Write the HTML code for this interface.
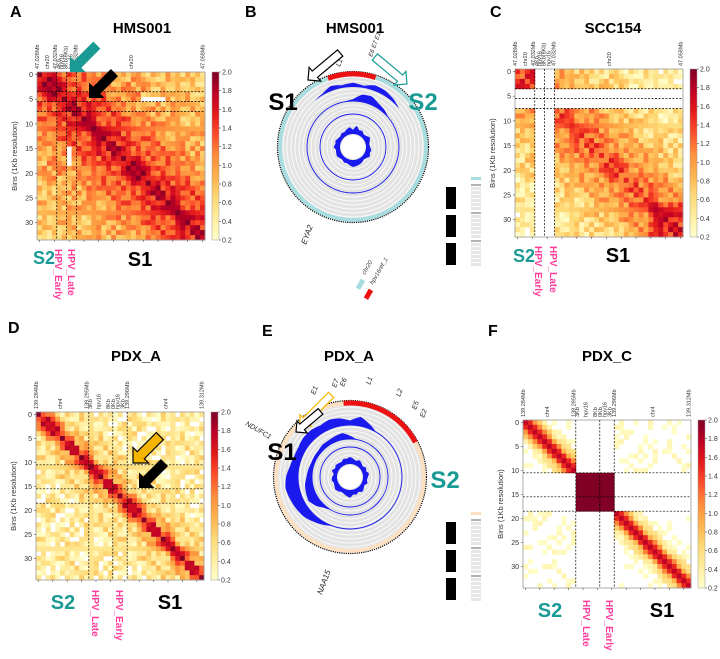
<!DOCTYPE html>
<html><head><meta charset="utf-8">
<style>
html,body{margin:0;padding:0;background:#fff;}
svg{display:block;font-family:"Liberation Sans",sans-serif;}
</style></head>
<body>
<svg id="fig" width="720" height="659" viewBox="0 0 720 659" xmlns="http://www.w3.org/2000/svg">
<g id="static">
<text x="10" y="17" font-size="16" font-weight="bold">A</text>
<text x="245" y="17" font-size="16" font-weight="bold">B</text>
<text x="490" y="17" font-size="16" font-weight="bold">C</text>
<text x="8" y="333" font-size="16" font-weight="bold">D</text>
<text x="262" y="336" font-size="16" font-weight="bold">E</text>
<text x="488" y="336" font-size="16" font-weight="bold">F</text>
<text x="142" y="33" font-size="15" font-weight="bold" text-anchor="middle">HMS001</text>
<text x="355" y="33" font-size="15" font-weight="bold" text-anchor="middle">HMS001</text>
<text x="613" y="33" font-size="15" font-weight="bold" text-anchor="middle">SCC154</text>
<text x="136" y="361" font-size="15" font-weight="bold" text-anchor="middle">PDX_A</text>
<text x="349" y="361" font-size="15" font-weight="bold" text-anchor="middle">PDX_A</text>
<text x="607" y="361" font-size="15" font-weight="bold" text-anchor="middle">PDX_C</text>
</g>
</svg>
<script>
// ---------- data ----------
const cbTicks = [0.2,0.4,0.6,0.8,1.0,1.2,1.4,1.6,1.8,2.0];
const yTicks = [0,5,10,15,20,25,30];
const noiseVals = [0.12,-0.2,0.05,0.25,-0.1,-0.3,0.18,0,-0.15,0.3,-0.05,0.1,-0.25,0.22,-0.08,0.15,-0.18];
const decayA = [1.9,1.7,1.55,1.45,1.4,1.35,1.3,1.25,1.2,1.15,1.1,1.08,1.05,1.0,1.0,0.95,0.95,0.9,0.9,0.9,0.85,0.85,0.85,0.8,0.8,0.8,0.8,0.75,0.75,0.75,0.75,0.7,0.7,0.7];
const decayC = [1.4,1.3,1.2,1.15,1.1,1.05,1.0,0.95,0.9,0.85,0.8,0.75,0.7,0.7,0.65,0.65,0.6,0.6,0.55,0.55,0.5,0.5,0.5,0.5,0.45,0.45,0.45,0.45,0.4,0.4,0.4,0.4,0.4,0.4];
const decayD = [1.85,1.5,1.1,0.85,0.7,0.6,0.55,0.5,0.5,0.45,0.45,0.45,0.4,0.4,0.4,0.4,0.4,0.4,0.4,0.4,0.4,0.4,0.4,0.4,0.4,0.4,0.4,0.4,0.4,0.4,0.4,0.4,0.4,0.4,0.4];
const decayF = [1.75,1.5,1.0,0.6,0.4,0.25,0.15,0.1,0.1,0.1,0.1,0.1,0.1,0.1,0.1,0.1,0.1,0.1,0.1,0.1,0.1,0.1,0.1,0.1,0.1,0.1,0.1,0.1,0.1,0.1,0.1,0.1,0.1,0.1,0.1];
const hpvA = [4,6,8];
const hpvD = [11,16,19];
const trackB1 = [0.6,0.3,0.8,0.7,0.4,0,0,0,0,0,0,0,0,0,0,0,0,0,0,0,0,0,0,0,0,0,0,0,0,0,0,0,0,0.2,0.7,0.4];
const trackB2 = [0.2,0.8,0.9,0.5,0.3,0,0,0,0,0,0,0,0,0,0,0,0,0,0,0,0,0,0,0,0,0,0,0,0,0,0,0,0,0,0,0];
const trackInnerB = [0.6,1.2,0.7,0.8,0.5,0.6,0.9,0.7,0.5,0.6,0.8,0.7,0.9,0.6,0.5,0.7,0.8,0.9,1.0,0.8,0.6,0.7,0.5,0.6,0.8,0.7,0.6,0.9,0.7,0.8,0.6,0.5,0.7,0.6,0.8,1.0];
const trackE1 = [0.3,0.6,0.3,0,0,0,0,0,0,0,0,0,0,0,0,0,0,0,0,0,0,0.2,0.4,0.6,0.7,0.8,0.9,0.8,0.6,0.5,0.5,0.6,0.6,0.5,0.6,0.5];
const trackE2 = [0.3,0,0,0,0,0,0,0,0,0,0,0,0,0,0,0,0,0,0,0,0,0,0.2,0.6,0.9,0.8,0.7,0.5,0.4,0.3,0.3,0.3,0.4,0.4,0.5,0.6];
const trackInnerE = [1.0,0.8,0.6,0.9,0.7,0.5,0.8,0.6,0.9,0.7,0.6,0.8,0.5,0.7,0.9,0.6,0.8,0.7,1.1,0.9,0.7,0.6,0.8,0.9,0.7,0.6,0.8,0.7,0.5,0.9,0.6,0.8,0.7,0.6,0.9,0.8];

const NS = "http://www.w3.org/2000/svg";
const fig = document.getElementById('fig');
function mk(tag, attrs, parent){const e=document.createElementNS(NS,tag);for(const k in attrs)e.setAttribute(k,attrs[k]);(parent||fig).appendChild(e);return e;}
const stops = ['#ffffcc','#ffeda0','#fed976','#feb24c','#fd8d3c','#fc4e2a','#e31a1c','#bd0026','#800026'];
function hex(h){return [1,3,5].map(i=>parseInt(h.substr(i,2),16));}
function color(v){
  let t=(v-0.2)/1.8; t=Math.max(0,Math.min(1,t));
  const p=t*(stops.length-1), i=Math.min(stops.length-2,Math.floor(p)), f=p-i;
  const a=hex(stops[i]), b=hex(stops[i+1]);
  return 'rgb('+a.map((x,k)=>Math.round(x+(b[k]-x)*f)).join(',')+')';
}
function noise(i,j){return noiseVals[(i*j*3+i+j)%17];}

function heatmap(id,x0,y0,size,n,valFn,lines,topLabels){
  const g=mk('g',{});
  
  
  const s=size/n;
  const xs=i=>x0+i*s;
  for(let i=0;i<n;i++)for(let j=0;j<n;j++){
    const v=valFn(i,j);
    if(v===null||v<0.2)continue;
    const r=mk('rect',{x:xs(j).toFixed(2),y:(y0+i*s).toFixed(2),width:(s+0.4).toFixed(2),height:(s+0.4).toFixed(2),fill:color(v)},g);
    
    
  }
  mk('rect',{x:x0,y:y0,width:size,height:size,fill:'none',stroke:'#999','stroke-width':0.8},g);
  lines.forEach(b=>{
    mk('line',{x1:xs(b),x2:xs(b),y1:y0,y2:y0+size,stroke:'#000','stroke-width':0.7,'stroke-dasharray':'2,1.5'},g);
    mk('line',{x1:x0,x2:x0+size,y1:y0+b*s,y2:y0+b*s,stroke:'#000','stroke-width':0.7,'stroke-dasharray':'2,1.5'},g);
  });
  yTicks.forEach(t=>{
    const yy=y0+(t+0.5)*s;
    mk('line',{x1:x0-2,x2:x0,y1:yy,y2:yy,stroke:'#333','stroke-width':0.5},g);
    const tx=mk('text',{x:x0-4,y:yy+2.5,'font-size':7,'text-anchor':'end',fill:'#333'},g);tx.textContent=t;
    
    
  });
  for(let k=0;k<n;k+=3){mk('line',{x1:xs(k+0.5),x2:xs(k+0.5),y1:y0+size,y2:y0+size+2,stroke:'#333','stroke-width':0.5},g);}
  const yt=mk('text',{transform:`translate(${x0-20},${y0+size/2}) rotate(-90)`,'font-size':7.5,'text-anchor':'middle',fill:'#333'},g);
  yt.textContent='Bins (1Kb resolution)';
  
  
  topLabels.forEach(([bin,txt])=>{
    const t=mk('text',{transform:`translate(${xs(bin)+2},${y0-3}) rotate(-90)`,'font-size':5.5,fill:'#333'},g);
    t.textContent=txt;
    
    
  });
  const cbx=x0+size+7;
  const gid='grad'+id;
  const defs=mk('defs',{},g);
  const lg=mk('linearGradient',{id:gid,x1:0,y1:1,x2:0,y2:0},defs);
  stops.forEach((c,k)=>mk('stop',{offset:(k/(stops.length-1)),'stop-color':c},lg));
  const cb=mk('rect',{x:cbx,y:y0,width:7,height:size,fill:`url(#${gid})`,stroke:'#999','stroke-width':0.5},g);
  
  
  cbTicks.forEach(v=>{
    const yy=y0+size-(v-0.2)/1.8*size;
    mk('line',{x1:cbx+7,x2:cbx+9,y1:yy,y2:yy,stroke:'#333','stroke-width':0.5},g);
    const t=mk('text',{x:cbx+10,y:yy+2.5,'font-size':7,fill:'#333'},g);t.textContent=v.toFixed(1);
    
    
  });
}

const topAC=[[0,'47.028Mb'],[2,'chr20'],[3.6,'47.032Mb'],[4.4,'4Kb'],[5,'hpv16'],[5.8,'8Kb(8Kb)'],[6.8,'hpv16'],[7.8,'47.032Mb'],[19,'chr20'],[33.5,'47.058Mb']];
const topDF=[[0,'139.284Mb'],[5,'chr4'],[10.5,'139.295Mb'],[11.3,'3Kb'],[13,'hpv16'],[15,'8Kb'],[16,'0Kb'],[17,'hpv16'],[18,'3Kb'],[19,'139.296Mb'],[27,'chr4'],[34.5,'139.312Mb']];
heatmap('a',37,72,168,34,(i,j)=>{
  const d=Math.abs(i-j); let v=decayA[d]+noise(i,j);
  if((i<8&&j<8)) v=Math.max(v,1.35+noise(i,j));
  if((j===6&&i>14&&i<19)||(i===5&&j>20&&j<26)) return null;
  return v;
},hpvA,topAC);
heatmap('c',515,69,168,34,(i,j)=>{
  const mi=i>=4&&i<8, mj=j>=4&&j<8;
  if(mi||mj) return null;
  const d=Math.abs(i-j); let v=decayC[d]+noise(i,j);
  if(i<4&&j<4) v=1.4+noise(i,j);
  if(i>26&&j>26) v+=0.3;
  return v;
},hpvA,topAC);
heatmap('d',36,412,168,35,(i,j)=>{
  const d=Math.abs(i-j); return decayD[d]+noise(i,j)*1.1;
},hpvD,topDF);
heatmap('f',523,420,168,35,(i,j)=>{
  const hi=i>=11&&i<19, hj=j>=11&&j<19;
  if(hi&&hj) return 2.0;
  if(hi||hj) return null;
  const d=Math.abs(i-j); let v=decayF[d]+(d>1?noise(i,j)*0.5:0);
  if((i<11)!==(j<11)) v=0.1+Math.max(0,noise(i,j))*0.8;
  return v;
},hpvD,topDF);

function lab(x,y,txt,col,size,rot,name){
  const t=mk('text',{x:x,y:y,'font-size':size,'font-weight':'bold',fill:col,'text-anchor':rot?'start':'middle'});
  if(rot) t.setAttribute('transform',`rotate(90 ${x} ${y})`);
  t.textContent=txt;
  
  
}
const TEAL='#1a9a94', PINK='#ff3c9a';
lab(44,264,'S2',TEAL,18,false,'s2-label');lab(55,249,'HPV_Early',PINK,10,true,'hpv-early-label');lab(68,249,'HPV_Late',PINK,10,true,'hpv-late-label');lab(140,266,'S1','#000',20,false,'s1-label');
lab(524,262,'S2',TEAL,18,false,'s2-label');lab(535,246,'HPV_Early',PINK,10,true,'hpv-early-label');lab(550,246,'HPV_Late',PINK,10,true,'hpv-late-label');lab(618,262,'S1','#000',20,false,'s1-label');
lab(63,609,'S2',TEAL,20,false,'s2-label');lab(92,590,'HPV_Late',PINK,10,true,'hpv-late-label');lab(116,590,'HPV_Early',PINK,10,true,'hpv-early-label');lab(170,609,'S1','#000',20,false,'s1-label');
lab(550,617,'S2',TEAL,20,false,'s2-label');lab(583,600,'HPV_Late',PINK,10,true,'hpv-late-label');lab(606,600,'HPV_Early',PINK,10,true,'hpv-early-label');lab(662,617,'S1','#000',20,false,'s1-label');

function arrow(tx,ty,L,w,fill,stroke,rot,name){
  const p=[[0,0],[-w,-w],[-w,-w/2.2],[-L,-w/2.2],[-L,w/2.2],[-w,w/2.2],[-w,w]].map(q=>q.join(',')).join(' ');
  const a=mk('polygon',{points:p,fill:fill,stroke:stroke,'stroke-width':1.2,transform:`translate(${tx},${ty}) rotate(${rot})`});
  
  
}
arrow(70,72,38,11,TEAL,'none',135,'teal-arrow');
arrow(89,98,36,11,'#000','none',135,'black-arrow');
arrow(133,463,38,11,'#f5b400','#000',135,'orange-arrow');
arrow(139,488,36,11,'#000','none',135,'black-arrow');

function P(cx,cy,r,a){const t=a*Math.PI/180;return [cx+r*Math.sin(t),cy-r*Math.cos(t)];}
function arcPath(cx,cy,r,a0,a1){const p0=P(cx,cy,r,a0),p1=P(cx,cy,r,a1);return `M${p0[0]},${p0[1]} A${r},${r} 0 ${(a1-a0)>180?1:0} 1 ${p1[0]},${p1[1]}`;}
function circos(id,cx,cy,R,ringCol,a0,a1,tracks){
  const g=mk('g',{});
  
  
  mk('circle',{cx:cx,cy:cy,r:R-4,fill:'#e3e3e3'},g);
  for(let r=14;r<R-4;r+=4) mk('circle',{cx:cx,cy:cy,r:r,fill:'none',stroke:'#fff','stroke-width':0.8},g);
  mk('circle',{cx:cx,cy:cy,r:12,fill:'#fff'},g);
  mk('circle',{cx:cx,cy:cy,r:R-2,fill:'none',stroke:ringCol,'stroke-width':4},g);
  mk('circle',{cx:cx,cy:cy,r:R+0.5,fill:'none',stroke:'#000','stroke-width':1.2,'stroke-dasharray':'1.2,1'},g);
  const red=mk('path',{d:arcPath(cx,cy,R-2,a0,a1),fill:'none',stroke:'#ee1111','stroke-width':5},g);
  
  
  tracks.forEach(tr=>{
    const n=tr.vals.length, step=360/n, sub=4;
    const out=[],inn=[];
    for(let k=0;k<=n*sub;k++){
      const i0=Math.floor(k/sub)%n, i1=(i0+1)%n, f=(k%sub)/sub;
      const v=tr.vals[i0]*(1-f)+tr.vals[i1]*f;
      out.push(P(cx,cy,tr.base+tr.scale*v,k*step/sub));
      inn.push(P(cx,cy,tr.base,k*step/sub));
    }
    const pts=out.concat(inn.reverse()).map(q=>q[0].toFixed(1)+','+q[1].toFixed(1)).join(' ');
    const poly=mk('polygon',{points:pts,fill:'#1a1aee'},g);
    
    
    if(tr.line) mk('circle',{cx:cx,cy:cy,r:tr.base,fill:'none',stroke:'#1a1aee','stroke-width':0.9},g);
  });
}
circos('b',353,147,75,'#a8dde0',-20,18,[
  {base:60,scale:7,vals:trackB1,line:false},
  {base:46,scale:9,vals:trackB2,line:true},
  {base:33,scale:2,vals:trackB2.map(()=>0),line:true},
  {base:13,scale:7,vals:trackInnerB,line:false}]);
circos('e',350,477,76,'#fde0c2',-5,62,[
  {base:52,scale:15,vals:trackE1,line:true},
  {base:38,scale:11,vals:trackE2,line:true},
  {base:30,scale:2,vals:trackE2.map(()=>0),line:true},
  {base:13,scale:7,vals:trackInnerE,line:false}]);

lab(283,110,'S1','#000',24,false,'s1-label');
lab(423,110,'S2',TEAL,24,false,'s2-label');
lab(282,460,'S1','#000',24,false,'s1-label');
lab(445,488,'S2',TEAL,24,false,'s2-label');
function small(x,y,txt,rot,size,col,name){
  const t=mk('text',{x:x,y:y,'font-size':size,'font-style':'italic',fill:col||'#222',transform:`rotate(${rot} ${x} ${y})`});
  t.textContent=txt;
  
  
}
small(306,245,'EYA2',-70,8,'#222','gene-label');
small(322,595,'NAA15',-70,8,'#222','gene-label');
small(245,425,'NDUFC1',30,7,'#222','gene-label');
small(340,67,'L1',-70,7,'#222','gene-label');
small(372,57,'E6 E7 E1',-70,6,'#222','gene-label');
small(315,395,'E1',-70,7,'#222','gene-label');
small(336,388,'E7',-70,7,'#222','gene-label');
small(344,387,'E6',-70,7,'#222','gene-label');
small(370,385,'L1',-70,7,'#222','gene-label');
small(400,397,'L2',-70,7,'#222','gene-label');
small(416,410,'E5',-70,7,'#222','gene-label');
small(424,418,'E2',-70,7,'#222','gene-label');
// outlined arrows for circos
arrow(308,80,42,9,'#fff','#000',140,'s1-outline-arrow');
arrow(407,84,42,9,'#fff',TEAL,40,'s2-outline-arrow');
arrow(300,426,44,8,'#fff','#f5b400',135,'yellow-outline-arrow');
arrow(296,432,32,8,'#fff','#000',140,'black-outline-arrow');

function trackLegend(x,y,topCol,name){
  const g=mk('g',{});
  
  
  mk('rect',{x:x+25,y:y-8,width:10,height:3,fill:topCol},g);
  for(let b=0;b<3;b++){
    const yy=y+b*28;
    mk('rect',{x:x,y:yy+2,width:10,height:22,fill:'#000'},g);
    mk('line',{x1:x+25,x2:x+35,y1:yy,y2:yy,stroke:'#666','stroke-width':1},g);
    for(let k=0;k<6;k++) mk('rect',{x:x+25,y:yy+2+k*4,width:10,height:3,fill:'#e6e6e6'},g);
  }
}
trackLegend(446,185,'#a8dde0','track-legend-b');
trackLegend(446,520,'#fde0c2','track-legend-e');
mk('rect',{x:355,y:282,width:10,height:5,fill:'#a8dde0',transform:'rotate(-60 360 284)'});
mk('rect',{x:363,y:292,width:10,height:5,fill:'#ee1111',transform:'rotate(-60 368 294)'});
small(365,275,'chr20',-60,6,'#333','chrom-legend-label');
small(373,285,'hpv16ref_1',-60,6,'#333','chrom-legend-label');
</script>
</body></html>
